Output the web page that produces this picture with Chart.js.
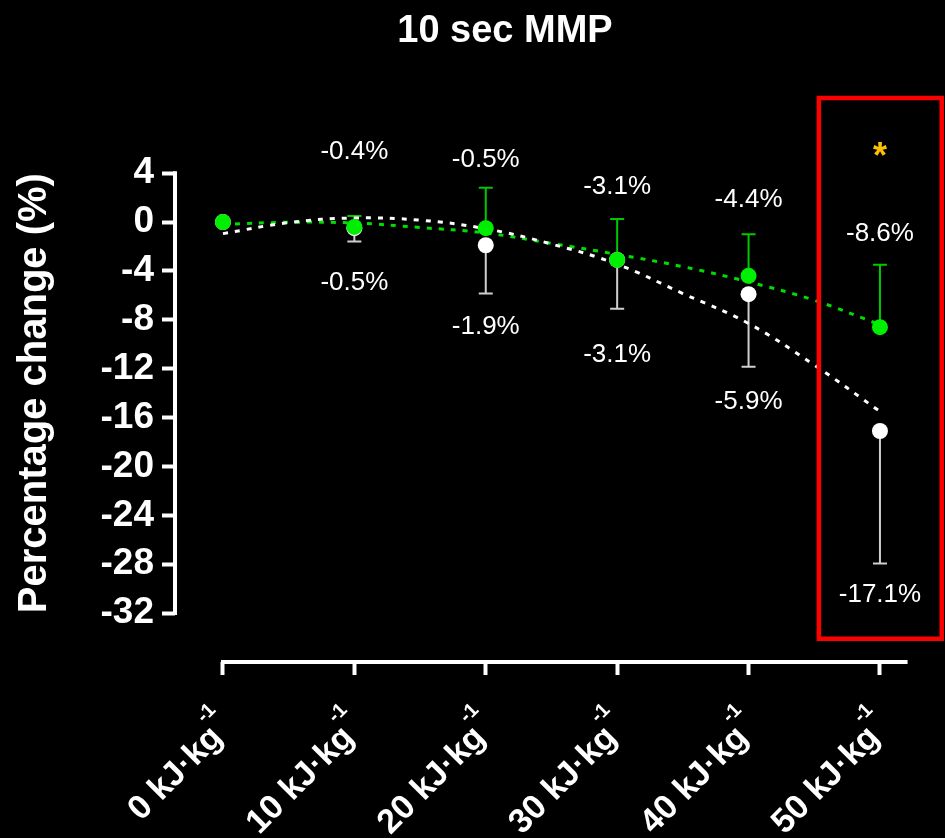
<!DOCTYPE html>
<html>
<head>
<meta charset="utf-8">
<script src="https://cdn.jsdelivr.net/npm/chart.js@4"></script>
<style>
html, body { margin: 0; padding: 0; background: #000; }
#wrap { width: 945px; height: 838px; }
</style>
</head>
<body>
<div id="wrap"><canvas id="chart" width="945" height="838"></canvas></div>
<script>
// categories (work done) and tick values
const categories = ['0 kJ·kg', '10 kJ·kg', '20 kJ·kg', '30 kJ·kg', '40 kJ·kg', '50 kJ·kg'];
const unitPower = '-1';
const yTicks = [4, 0, -4, -8, -12, -16, -20, -24, -28, -32];

// green group: means and top of the (upper only) error bars
const greenMeans = [0, -0.4, -0.5, -3.1, -4.4, -8.6];
const greenUpper = [null, 0.5, 2.8, 0.25, -1.0, -3.5];
// white group: means and bottom of the (lower only) error bars
const whiteMeans = [0, -0.5, -1.9, -3.1, -5.9, -17.1];
const whiteLower = [null, -1.6, -5.85, -7.1, -11.85, -27.95];

// dotted trend curves at half-category steps
const trendSteps = [0, 0.5, 1, 1.5, 2, 2.5, 3, 3.5, 4, 4.5, 5];
const greenTrend = [-0.2, -0.02, -0.08, -0.45, -0.9, -1.75, -2.65, -3.65, -4.9, -6.4, -8.4];
const whiteTrend = [-0.95, -0.05, 0.33, 0.15, -0.55, -1.8, -3.45, -5.85, -8.3, -11.7, -15.5];

// where the percentage labels sit (in y units)
const greenLabelAt = [null, 5.75, 5.13, 2.9, 1.8, -1.0];
const whiteLabelAt = [null, -4.97, -8.6, -10.9, -14.7, -30.5];

const FONT = '"Liberation Sans", Arial, Helvetica, sans-serif';
Chart.defaults.font.family = FONT;

const pts = (xs, ys) => xs.map((x, i) => ({ x, y: ys[i] }));

const decor = {
    id: 'decor',
    beforeDatasetsDraw(chart) {
        const ctx = chart.ctx;
        const xs = chart.scales.x, ys = chart.scales.y;
        ctx.save();
        ctx.strokeStyle = '#fff';
        ctx.lineWidth = 4;
        // y axis line, only over the tick range
        ctx.beginPath();
        ctx.moveTo(xs.left, ys.getPixelForValue(4) - 2);
        ctx.lineTo(xs.left, ys.getPixelForValue(-32) + 2);
        ctx.stroke();
        // x axis line
        const yb = ys.getPixelForValue(-36);
        ctx.beginPath();
        ctx.moveTo(xs.getPixelForValue(0) - 2, yb);
        ctx.lineTo(xs.getPixelForValue(5.21), yb);
        ctx.stroke();

        // error bars
        const bar = (i, from, to, color) => {
            const x = xs.getPixelForValue(i);
            const y1 = ys.getPixelForValue(from), y2 = ys.getPixelForValue(to);
            ctx.strokeStyle = color;
            ctx.lineWidth = 2;
            ctx.beginPath();
            ctx.moveTo(x, y1); ctx.lineTo(x, y2);
            ctx.moveTo(x - 7, y2); ctx.lineTo(x + 7, y2);
            ctx.stroke();
        };
        for (let i = 0; i < categories.length; i++) {
            if (whiteLower[i] !== null) bar(i, whiteMeans[i], whiteLower[i], '#cfcfcf');
            if (greenUpper[i] !== null) bar(i, greenMeans[i], greenUpper[i], '#00c800');
        }
        ctx.restore();
    },
    afterDatasetsDraw(chart) {
        const ctx = chart.ctx;
        const xs = chart.scales.x, ys = chart.scales.y;
        ctx.save();
        // chart title
        ctx.fillStyle = '#fff';
        ctx.font = 'bold 38px ' + FONT;
        ctx.textAlign = 'center';
        ctx.textBaseline = 'alphabetic';
        ctx.fillText('10 sec MMP', 505, 42);

        // percentage labels
        ctx.font = '26px ' + FONT;
        ctx.textBaseline = 'middle';
        for (let i = 0; i < categories.length; i++) {
            const x = xs.getPixelForValue(i);
            if (greenLabelAt[i] !== null) ctx.fillText(greenMeans[i].toFixed(1) + '%', x, ys.getPixelForValue(greenLabelAt[i]));
            if (whiteLabelAt[i] !== null) ctx.fillText(whiteMeans[i].toFixed(1) + '%', x, ys.getPixelForValue(whiteLabelAt[i]));
        }
        // highlight box round the last category
        ctx.strokeStyle = '#ff0000';
        ctx.lineWidth = 4.5;
        const bx1 = xs.getPixelForValue(4.535), bx2 = xs.getPixelForValue(5.47);
        const by1 = ys.getPixelForValue(10.15), by2 = ys.getPixelForValue(-34.1);
        ctx.strokeRect(bx1, by1, bx2 - bx1, by2 - by1);
        // significance mark
        ctx.fillStyle = '#ffc000';
        ctx.font = 'bold 36px ' + FONT;
        ctx.textBaseline = 'alphabetic';
        ctx.fillText('*', xs.getPixelForValue(5), ys.getPixelForValue(6.1) + 21);

        // rotated category labels with raised unit power
        ctx.fillStyle = '#fff';
        const yb = ys.getPixelForValue(-36);
        for (let i = 0; i < categories.length; i++) {
            ctx.save();
            ctx.translate(xs.getPixelForValue(i) + 1, yb + 77);
            ctx.rotate(-Math.PI / 4);
            ctx.font = 'bold 34px ' + FONT;
            ctx.textAlign = 'right';
            ctx.fillText(categories[i], 0, 0);
            ctx.font = 'bold 20px ' + FONT;
            ctx.textAlign = 'left';
            ctx.fillText(unitPower, -3, -25);
            ctx.restore();
        }

        // y axis title
        ctx.font = 'bold 40px ' + FONT;
        ctx.textAlign = 'center';
        ctx.textBaseline = 'middle';
        ctx.translate(35, (ys.getPixelForValue(4) + ys.getPixelForValue(-32)) / 2);
        ctx.rotate(-Math.PI / 2);
        ctx.fillText('Percentage change (%)', 0, 0);
        ctx.restore();
    }
};

const ctx = document.getElementById('chart').getContext('2d');
const chart = new Chart(ctx, {
    type: 'scatter',
    data: {
        datasets: [
            {
                type: 'line',
                data: pts(trendSteps, greenTrend),
                borderColor: '#00dd00',
                borderWidth: 3,
                borderDash: [5, 7],
                pointRadius: 0,
                tension: 0.4,
                order: 4
            },
            {
                type: 'line',
                data: pts(trendSteps, whiteTrend),
                borderColor: '#ffffff',
                borderWidth: 3,
                borderDash: [5, 7],
                pointRadius: 0,
                tension: 0.4,
                order: 3
            },
            {
                data: pts(categories.map((c, i) => i), whiteMeans),
                backgroundColor: '#ffffff',
                borderWidth: 0,
                pointRadius: 8,
                order: 2
            },
            {
                data: pts(categories.map((c, i) => i), greenMeans),
                backgroundColor: '#00ee00',
                borderWidth: 0,
                pointRadius: 8,
                order: 1
            }
        ]
    },
    options: {
        responsive: false,
        animation: false,
        devicePixelRatio: 1,
        layout: { autoPadding: false, padding: { top: 87.6, left: 0, right: 0, bottom: 0 } },
        plugins: {
            legend: { display: false },
            tooltip: { enabled: false },
            title: { display: false }
        },
        scales: {
            x: {
                type: 'linear',
                min: -0.365,
                max: 5.495,
                afterFit: (s) => { s.height = 176; s.paddingLeft = 0; s.paddingRight = 0; },
                afterBuildTicks: (s) => { s.ticks = categories.map((c, i) => ({ value: i })); },
                border: { display: false },
                grid: { drawOnChartArea: false, drawTicks: true, tickLength: 13, tickWidth: 4, tickColor: '#fff', color: '#fff' },
                ticks: { display: false }
            },
            y: {
                min: -36,
                max: 11,
                afterFit: (s) => { s.width = 175; s.paddingTop = 0; s.paddingBottom = 0; },
                afterBuildTicks: (s) => { s.ticks = yTicks.map(v => ({ value: v })); },
                border: { display: false },
                grid: { drawOnChartArea: false, drawTicks: true, tickLength: 13, tickWidth: 4, tickColor: '#fff', color: '#fff' },
                ticks: {
                    padding: 8,
                    color: '#fff',
                    font: { size: 37, weight: 'bold' }
                }
            }
        }
    },
    plugins: [decor]
});
</script>
</body>
</html>
